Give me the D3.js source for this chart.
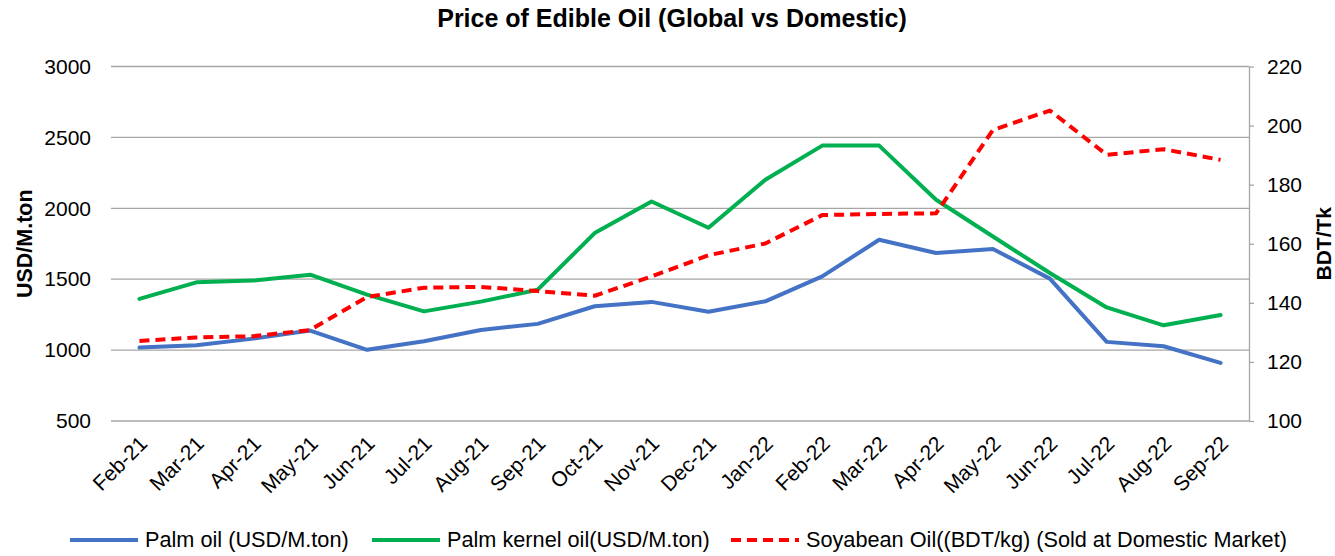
<!DOCTYPE html>
<html>
<head>
<meta charset="utf-8">
<script src="https://cdn.jsdelivr.net/npm/d3@7"></script>
<style>
  body { margin: 0; background: #fff; }
  text { font-family: "Liberation Sans", Arial, sans-serif; }
</style>
</head>
<body>
<div id="chart"></div>
<script>
// data
var months = ["Feb-21", "Mar-21", "Apr-21", "May-21", "Jun-21", "Jul-21", "Aug-21", "Sep-21", "Oct-21", "Nov-21",
  "Dec-21", "Jan-22", "Feb-22", "Mar-22", "Apr-22", "May-22", "Jun-22", "Jul-22", "Aug-22", "Sep-22"];

var palmOil = [1018, 1034, 1081, 1138, 1002, 1062, 1142, 1185, 1309, 1340,
  1270, 1344, 1520, 1778, 1685, 1713, 1504, 1058, 1027, 910];

var palmKernelOil = [1361, 1478, 1490, 1532, 1391, 1273, 1342, 1426, 1825, 2048,
  1863, 2201, 2442, 2442, 2060, 1801, 1544, 1301, 1175, 1248];

var soyabeanOil = [127.1, 128.3, 128.7, 130.8, 142.0, 145.1, 145.4, 144.0, 142.4, 148.9,
  156.1, 160.1, 169.7, 170.1, 170.3, 198.5, 205.1, 190.1, 192.0, 188.4];

var leftTicks = [500, 1000, 1500, 2000, 2500, 3000];
var rightTicks = [100, 120, 140, 160, 180, 200, 220];

var legendNames = ["Palm oil (USD/M.ton)", "Palm kernel oil(USD/M.ton)", "Soyabean Oil((BDT/kg) (Sold at Domestic Market)"];

//svg size
var svgWidth = 1335;
var svgHeight = 556;

var margin = { top: 66.5, right: 86, bottom: 135, left: 111 };
var width = svgWidth - margin.left - margin.right;
var height = svgHeight - margin.top - margin.bottom;

var svg = d3.select("#chart")
  .append("svg")
  .attr("width", svgWidth)
  .attr("height", svgHeight);

var chartGroup = svg.append("g")
  .attr("transform", `translate(${margin.left}, ${margin.top})`);

// scales
var xScale = d3.scaleBand()
  .domain(months)
  .range([0, width]);

var yLeft = d3.scaleLinear()
  .domain([500, 3000])
  .range([height, 0]);

var yRight = d3.scaleLinear()
  .domain([100, 220])
  .range([height, 0]);

var xMid = d => xScale(d) + xScale.bandwidth() / 2;

// gridlines
chartGroup.append("g")
  .selectAll("line")
  .data(leftTicks)
  .enter()
  .append("line")
  .attr("x1", 0)
  .attr("x2", width)
  .attr("y1", d => yLeft(d))
  .attr("y2", d => yLeft(d))
  .attr("stroke", "#a6a6a6")
  .attr("stroke-width", 1.3);

// left axis (labels only)
var leftAxis = d3.axisLeft(yLeft)
  .tickValues(leftTicks)
  .tickFormat(d3.format("d"))
  .tickSize(0)
  .tickPadding(20);

chartGroup.append("g")
  .call(leftAxis)
  .call(g => g.select(".domain").remove())
  .selectAll("text")
  .attr("font-size", "21px")
  .attr("fill", "#000");

// right axis
var rightAxis = d3.axisRight(yRight)
  .tickValues(rightTicks)
  .tickSize(5)
  .tickSizeOuter(0)
  .tickPadding(13);

var rAxis = chartGroup.append("g")
  .attr("transform", `translate(${width}, 0)`)
  .call(rightAxis);

rAxis.select(".domain").attr("stroke", "#a6a6a6").attr("stroke-width", 1.3);
rAxis.selectAll(".tick line").attr("stroke", "#a6a6a6").attr("stroke-width", 1.3);
rAxis.selectAll("text")
  .attr("font-size", "21px")
  .attr("fill", "#000");

// x labels, rotated
chartGroup.append("g")
  .selectAll("text")
  .data(months)
  .enter()
  .append("text")
  .attr("transform", d => `translate(${xMid(d) + 9}, ${height + 24}) rotate(-45)`)
  .attr("text-anchor", "end")
  .attr("font-size", "21px")
  .text(d => d);

// lines
var leftLine = d3.line()
  .x((d, i) => xMid(months[i]))
  .y(d => yLeft(d));

var rightLine = d3.line()
  .x((d, i) => xMid(months[i]))
  .y(d => yRight(d));

chartGroup.append("path")
  .datum(palmOil)
  .attr("d", leftLine)
  .attr("fill", "none")
  .attr("stroke", "#4472c4")
  .attr("stroke-width", 4)
  .attr("stroke-linejoin", "round")
  .attr("stroke-linecap", "round");

chartGroup.append("path")
  .datum(palmKernelOil)
  .attr("d", leftLine)
  .attr("fill", "none")
  .attr("stroke", "#00b050")
  .attr("stroke-width", 4)
  .attr("stroke-linejoin", "round")
  .attr("stroke-linecap", "round");

chartGroup.append("path")
  .datum(soyabeanOil)
  .attr("d", rightLine)
  .attr("fill", "none")
  .attr("stroke", "#ff0000")
  .attr("stroke-width", 4)
  .attr("stroke-dasharray", "10,6")
  .attr("stroke-linejoin", "round");

// title
svg.append("text")
  .attr("x", 672)
  .attr("y", 27)
  .attr("text-anchor", "middle")
  .attr("font-size", "25px")
  .attr("font-weight", "bold")
  .text("Price of Edible Oil (Global vs Domestic)");

// axis titles
svg.append("text")
  .attr("transform", `translate(32, ${margin.top + height / 2}) rotate(-90)`)
  .attr("text-anchor", "middle")
  .attr("font-size", "21.5px")
  .attr("font-weight", "bold")
  .text("USD/M.ton");

svg.append("text")
  .attr("transform", `translate(1331, ${margin.top + height / 2}) rotate(-90)`)
  .attr("text-anchor", "middle")
  .attr("font-size", "21px")
  .attr("font-weight", "bold")
  .text("BDT/Tk");

// legend
var legendX = [70, 372, 731];
var legendColors = ["#4472c4", "#00b050", "#ff0000"];
var legendDash = [null, null, "10,6"];

var legend = svg.append("g")
  .selectAll("g")
  .data(legendNames)
  .enter()
  .append("g")
  .attr("transform", (d, i) => `translate(${legendX[i]}, 540)`);

legend.append("line")
  .attr("x1", 0)
  .attr("x2", 68)
  .attr("stroke", (d, i) => legendColors[i])
  .attr("stroke-width", 4)
  .attr("stroke-dasharray", (d, i) => legendDash[i]);

legend.append("text")
  .attr("x", 75)
  .attr("y", 7)
  .attr("font-size", "21.7px")
  .text(d => d);
</script>
</body>
</html>
